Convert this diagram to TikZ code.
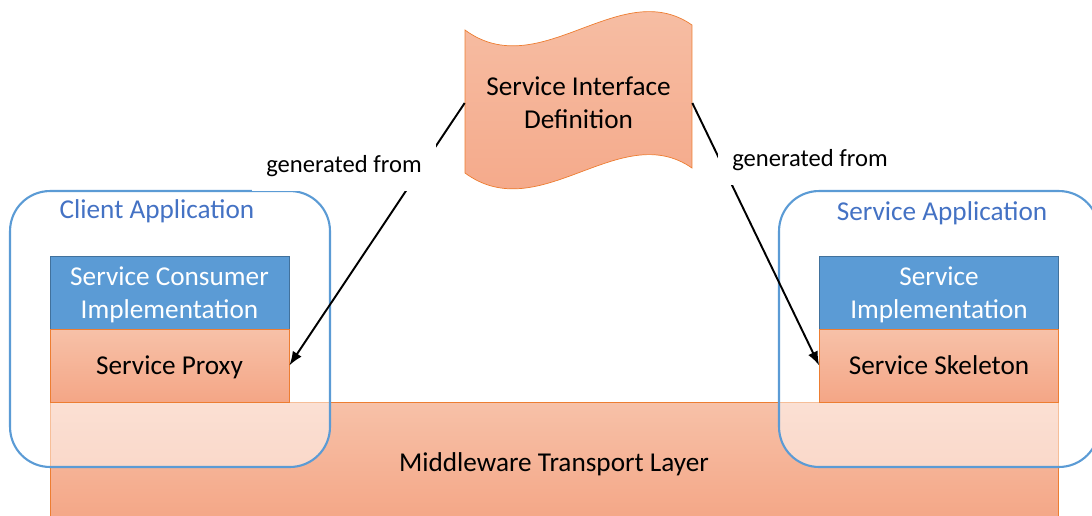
\documentclass[tikz,border=0pt]{standalone}
\usepackage{fontspec}
\setmainfont{Carlito}
\usetikzlibrary{arrows.meta}

\definecolor{appblue}{RGB}{91,155,213}
\definecolor{titleblue}{RGB}{68,114,196}
\definecolor{implblue}{RGB}{91,155,213}
\definecolor{implborder}{RGB}{65,113,156}
\definecolor{orangetop}{RGB}{247,193,168}
\definecolor{orangebot}{RGB}{244,166,134}
\definecolor{orangeborder}{RGB}{237,125,49}

\begin{document}
\begin{tikzpicture}[
        x=0.02cm, y=-0.02cm,
        app/.style={draw=appblue,line width=1.2pt,rounded corners=0.8cm,fill=white,fill opacity=0.5,
            minimum width=6.4cm,minimum height=5.52cm},
        impl/.style={draw=implborder,fill=implblue,text=white,align=center,text depth=0pt,
            minimum width=4.78cm,minimum height=1.46cm,font=\fontsize{15.5}{19}\selectfont},
        stub/.style={draw=orangeborder,top color=orangetop,bottom color=orangebot,text depth=0pt,
            minimum width=4.78cm,minimum height=1.46cm,font=\fontsize{15.5}{19}\selectfont},
        apptitle/.style={text=titleblue,text depth=0pt,font=\fontsize{15.5}{19}\selectfont},
        genlabel/.style={fill=white,inner sep=8pt,font=\fontsize{14}{17}\selectfont},
        gen/.style={-{Latex[length=8pt,width=6pt]},line width=1.1pt}
    ]

    \useasboundingbox (0,0) rectangle (1092,515);

    % transport layer
    \node[stub,minimum width=20.16cm,minimum height=2.4cm] (mw) at (554,462) {Middleware Transport Layer};

    % applications
    \node[app] (client) at (170,329) {};
    \node[app] (server) at (939,329) {};
    \node[apptitle] (clientname) at (157,209) {Client Application};
    \node[apptitle] (servername) at (942,211) {Service Application};

    \node[impl,align=center] (consumer) at (169.5,292.5) {Service Consumer\\Implementation};
    \node[stub] (proxy) at (169.5,365.5) {Service Proxy};
    \node[impl,align=center] (service) at (939,292.5) {Service\\Implementation};
    \node[stub] (skeleton) at (939,365.5) {Service Skeleton};

    % interface definition
    \path[draw=orangeborder,top color=orangetop,bottom color=orangebot]
        (465,30) .. controls (540,85) and (620,-25) .. (692,25)
        -- (692,168) .. controls (620,118) and (540,228) .. (465,173) -- cycle;
    \node[align=center,minimum width=4.54cm,minimum height=2cm,font=\fontsize{15.5}{19}\selectfont]
        (sid) at (578.5,103) {Service Interface\\Definition};

    \draw[gen] (sid.west) -- (proxy.east);
    \draw[gen] (sid.east) -- (skeleton.west);

    \node[genlabel] (genleft) at (344,166) {generated from};
    \node[genlabel] (genright) at (810,160) {generated from};

\end{tikzpicture}
\end{document}
